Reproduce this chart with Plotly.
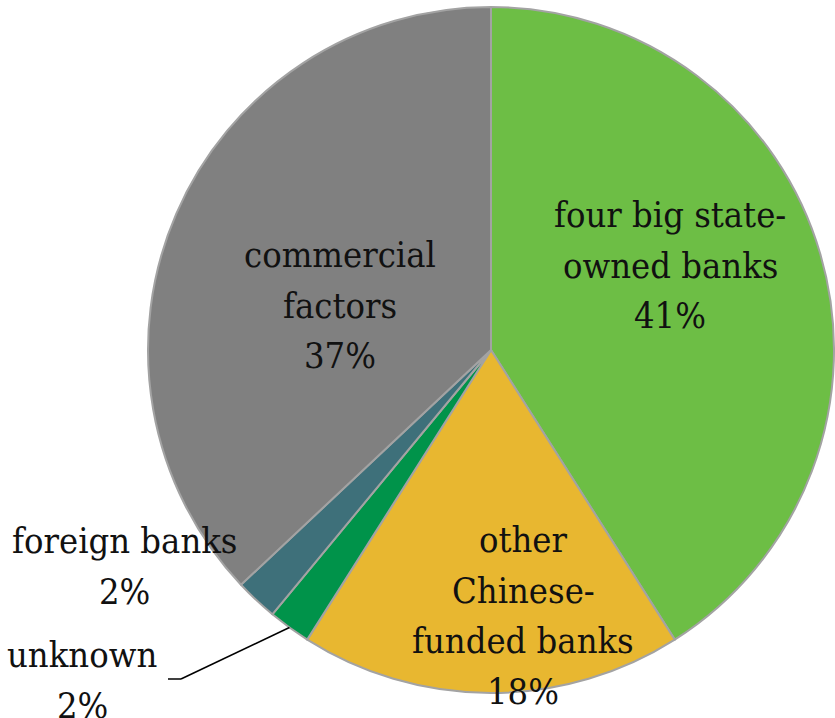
import math
import plotly.graph_objects as go

# Loan sources by lender type (percent)
categories = ["four big state-owned banks", "other Chinese-funded banks", "unknown",
              "foreign banks", "commercial factors"]
values = [41, 18, 2, 2, 37]
label_lines = [["four big state-", "owned banks"],
               ["other", "Chinese-", "funded banks"],
               ["unknown"],
               ["foreign banks"],
               ["commercial", "factors"]]
colors = ["#6DBE45", "#E8B730", "#00934A", "#3E707A", "#808080"]

W, H = 835, 718
CX, CY, R = 491, 350, 343  # pie centre and radius in pixels

fig = go.Figure(go.Pie(
    labels=categories,
    values=values,
    sort=False,
    direction="clockwise",
    rotation=0,
    textinfo="none",
    hoverinfo="skip",
    marker=dict(colors=colors, line=dict(color="#A3A3A3", width=2)),
    domain=dict(x=[(CX - R) / W, (CX + R) / W], y=[1 - (CY + R) / H, 1 - (CY - R) / H]),
    showlegend=False,
))

# label block placement: centre x and first baseline (pixels), line pitch
label_pos = {
    "four big state-owned banks": (670, 227),
    "other Chinese-funded banks": (523, 552),
    "unknown": (82, 667),
    "foreign banks": (125, 553),
    "commercial factors": (340, 267),
}
PITCH = 50.5
FS = 36
font = dict(family="DejaVu Serif Condensed", size=FS, color="#111111")

annotations = []
for cat, lines, v in zip(categories, label_lines, values):
    cx, base = label_pos[cat]
    for i, line in enumerate(lines + [f"{v}%"]):
        b = base + i * PITCH
        yc = b - 0.346 * FS
        annotations.append(dict(
            x=cx / W, y=1 - yc / H, xref="paper", yref="paper",
            text=line, showarrow=False, font=font,
            xanchor="center", yanchor="middle", align="center",
        ))

# leader line for the "unknown" slice, starting at the slice's mid-angle on the rim
total = sum(values)
start = sum(values[:2])
mid_frac = (start + values[2] / 2) / total
ang = 2 * math.pi * mid_frac
ex = CX + R * math.sin(ang)
ey = CY - R * math.cos(ang)
elbow = (181, 679)
tail = (168, 679)
shapes = [
    dict(type="line", xref="paper", yref="paper",
         x0=ex / W, y0=1 - ey / H, x1=elbow[0] / W, y1=1 - elbow[1] / H,
         line=dict(color="black", width=1.5)),
    dict(type="line", xref="paper", yref="paper",
         x0=elbow[0] / W, y0=1 - elbow[1] / H, x1=tail[0] / W, y1=1 - tail[1] / H,
         line=dict(color="black", width=1.5)),
]

fig.update_layout(
    width=W, height=H,
    margin=dict(l=0, r=0, t=0, b=0),
    paper_bgcolor="white", plot_bgcolor="white",
    annotations=annotations, shapes=shapes,
)

fig.write_html("out.html")
